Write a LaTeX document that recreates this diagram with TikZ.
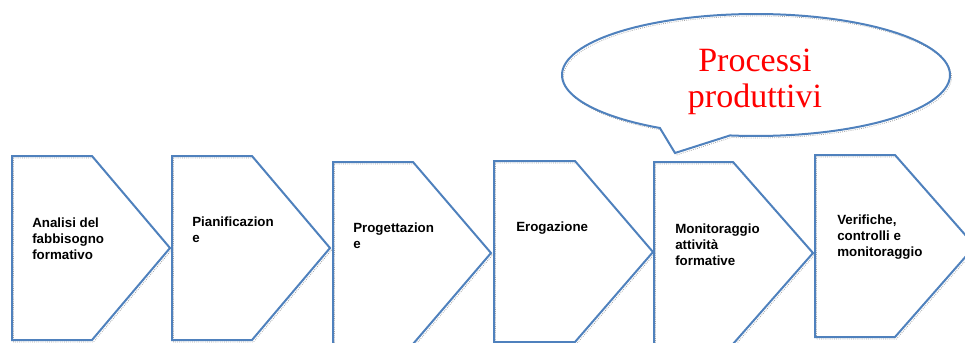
\documentclass[tikz,border=0pt]{standalone}
\usepackage{fontspec}
\setmainfont{Liberation Serif}
\setsansfont{Liberation Sans}
\definecolor{shapeblue}{RGB}{79,129,189}
\tikzset{
  outline/.style={draw=shapeblue, line width=1.5pt, line join=miter},
  shadeline/.style={draw=black!35, line width=0.6pt, densely dotted},
  steptext/.style={anchor=north west, inner sep=0pt, align=left,
    font=\sffamily\bfseries\fontsize{10}{12}\selectfont},
  bubbletext/.style={text=red, align=center, inner sep=0pt,
    font=\rmfamily\fontsize{25.5}{27}\selectfont}
}
\newcommand\chev[6]{%
  \draw[shadeline, xshift=1.1pt, yshift=-1.5pt] (#1,#2) -- (#4,#2) -- (#5,#6) -- (#4,#3) -- (#1,#3) -- cycle;
  \draw[outline] (#1,#2) -- (#4,#2) -- (#5,#6) -- (#4,#3) -- (#1,#3) -- cycle;}
\begin{document}
\begin{tikzpicture}[x=0.75pt, y=-0.75pt]
\useasboundingbox (0,0) rectangle (965,343);
% chevrons: left, top, bottom, corner x, tip x, tip y
\chev{12}{156}{340}{92}{170}{248}
\chev{172}{156}{340}{252}{330}{248}
\chev{333}{162}{344}{413}{491}{253}
\chev{494}{161}{342}{575}{653}{252}
\chev{654}{162}{344}{733}{813}{253}
\chev{815}{155}{337}{895}{975}{246}
% callout
\draw[shadeline, xshift=1.1pt, yshift=-1.5pt] plot[domain=119.7:457.7, samples=150] ({756+194*cos(\x)},{75+61*sin(\x)}) -- (675,153) -- cycle;
\draw[outline] plot[domain=119.7:457.7, samples=150] ({756+194*cos(\x)},{75+61*sin(\x)}) -- (675,153) -- cycle;
% texts
\node[steptext] (analisi) at (32,218) {Analisi del\\fabbisogno\\formativo};
\node[steptext] (pianif) at (192,217) {Pianificazion\\e};
\node[steptext] (progett) at (353,223) {Progettazion\\e};
\node[steptext] (erog) at (516,222) {Erogazione};
\node[steptext] (monit) at (675,224) {Monitoraggio\\attività\\formative};
\node[steptext] (verif) at (837,215) {Verifiche,\\controlli e\\monitoraggio};
\node[bubbletext] (processi) at (755,82) {Processi\\produttivi};
\end{tikzpicture}
\end{document}
